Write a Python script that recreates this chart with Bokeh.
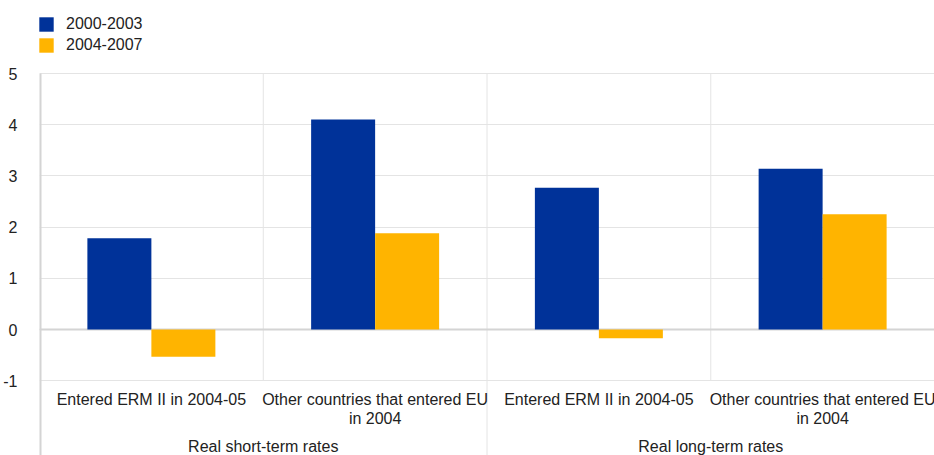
from bokeh.plotting import figure
from bokeh.models import ColumnDataSource, FixedTicker, Legend, LegendItem
from bokeh.embed import file_html
from bokeh.resources import INLINE
from bokeh.core.properties import value

# ---- data ----
groups = ["Real short-term rates", "Real long-term rates"]
categories = ["Entered ERM II in 2004-05", "Other countries that entered EU\nin 2004",
              "Entered ERM II in 2004-05", "Other countries that entered EU\nin 2004"]
series_names = ["2000-2003", "2004-2007"]
v_2000_2003 = [1.78, 4.10, 2.77, 3.14]
v_2004_2007 = [-0.53, 1.88, -0.17, 2.25]
y_ticks = [-1, 0, 1, 2, 3, 4, 5]

BLUE = "#003299"
YELLOW = "#FFB400"
FONT = "Liberation Sans"
FS = "16px"

n = len(categories)
centers = [i + 0.5 for i in range(n)]
bw = 0.286

px_per_unit = 51.2
y_top = 329 / px_per_unit
y_bot = -(455 - 329) / px_per_unit

p = figure(width=934, height=455, output_backend="svg", toolbar_location=None,
           x_range=(0, n), y_range=(y_bot, y_top),
           min_border_left=38, min_border_right=0, min_border_top=0, min_border_bottom=0)
p.outline_line_color = None
p.xaxis.visible = False
p.xgrid.visible = False
p.ygrid.ticker = FixedTicker(ticks=y_ticks)
p.ygrid.grid_line_color = "#e4e4e4"
p.ygrid.grid_line_width = 1

ax = p.yaxis[0]
ax.ticker = FixedTicker(ticks=y_ticks)
ax.major_label_overrides = {t: str(t) for t in y_ticks}
ax.axis_line_color = None
ax.major_tick_line_color = None
ax.minor_tick_line_color = None
ax.major_label_text_font = FONT
ax.major_label_text_font_size = FS
ax.major_label_text_color = "#222222"
ax.major_label_standoff = 16

# category separators
sep_x = [float(i) for i in range(1, n)]
sep_y1 = [y_bot if (i % 2 == 0) else y_ticks[0] for i in range(1, n)]
p.segment(x0=sep_x, y0=[y_ticks[-1]] * len(sep_x), x1=sep_x, y1=sep_y1,
          line_color="#e4e4e4", line_width=1)

# zero line
p.segment(x0=[0], y0=[0], x1=[n], y1=[0], line_color="#d4d4d4", line_width=2)
# left axis line
p.segment(x0=[0], y0=[y_ticks[-1]], x1=[0], y1=[y_bot], line_color="#d4d4d4", line_width=4)

src = ColumnDataSource(dict(x1=[c - bw / 2 for c in centers], x2=[c + bw / 2 for c in centers],
                            a=v_2000_2003, b=v_2004_2007))
r1 = p.vbar(x="x1", top="a", bottom=0, width=bw, source=src, fill_color=BLUE, line_color=None)
r2 = p.vbar(x="x2", top="b", bottom=0, width=bw, source=src, fill_color=YELLOW, line_color=None)

# category labels
p.text(x=centers, y=[y_ticks[0] - 10 / px_per_unit] * n, text=categories,
       text_font=value(FONT), text_font_size=FS, text_color="#222222",
       text_align="center", text_baseline="top", text_line_height=1.15)
gx = [1.0 + 2 * i for i in range(len(groups))]
p.text(x=gx, y=[-(446 - 329) / px_per_unit] * len(groups), text=groups,
       text_font=value(FONT), text_font_size=FS, text_color="#222222",
       text_align="center", text_baseline="middle")

legend = Legend(items=[LegendItem(label=series_names[0], renderers=[r1]),
                       LegendItem(label=series_names[1], renderers=[r2])],
                location=(-2, 400), margin=0, padding=0, spacing=1,
                glyph_width=18, glyph_height=18, label_height=20,
                label_standoff=11, border_line_color=None, background_fill_alpha=0,
                label_text_font=FONT, label_text_font_size=FS, label_text_color="#222222")
p.add_layout(legend, "center")

open("out.html", "w").write(file_html(p, INLINE))
